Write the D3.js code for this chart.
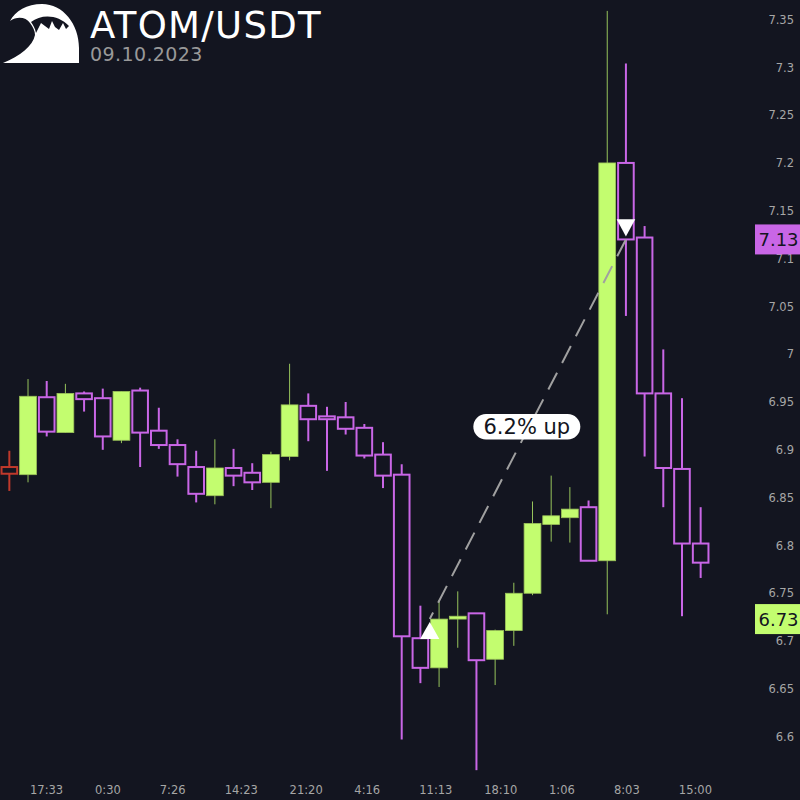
<!DOCTYPE html>
<html><head><meta charset="utf-8">
<script src="https://cdn.jsdelivr.net/npm/d3@7/dist/d3.min.js"></script>
<style>
html,body{margin:0;padding:0;background:#131520;}
svg{display:block;font-family:"DejaVu Sans",sans-serif;}
</style>
</head><body>
<svg id="chart" width="800" height="800"></svg>
<script>
// ---- data ----
const opens  = [6.882,6.874,6.955,6.918,6.959,6.954,6.910,6.962,6.920,6.905,6.882,6.852,6.881,6.876,6.866,6.893,6.946,6.935,6.934,6.923,6.895,6.874,6.703,6.672,6.723,6.729,6.681,6.711,6.750,6.822,6.829,6.840,6.784,7.200,7.122,6.959,6.880,6.802];
const highs  = [6.899,6.974,6.972,6.969,6.961,6.964,6.961,6.965,6.944,6.911,6.899,6.911,6.901,6.886,6.898,6.990,6.959,6.945,6.950,6.927,6.908,6.885,6.737,6.743,6.752,6.729,6.712,6.761,6.846,6.873,6.861,6.847,7.359,7.304,7.134,7.005,6.954,6.840];
const lows   = [6.857,6.866,6.914,6.918,6.940,6.900,6.907,6.882,6.901,6.872,6.845,6.843,6.862,6.858,6.839,6.889,6.909,6.878,6.916,6.891,6.860,6.597,6.656,6.652,6.693,6.565,6.654,6.695,6.748,6.804,6.803,6.784,6.728,7.040,6.893,6.840,6.726,6.766];
const closes = [6.875,6.956,6.919,6.959,6.953,6.914,6.961,6.918,6.905,6.885,6.854,6.881,6.873,6.866,6.895,6.947,6.932,6.932,6.922,6.894,6.873,6.705,6.672,6.723,6.726,6.680,6.711,6.750,6.823,6.831,6.838,6.784,7.200,7.120,6.959,6.881,6.802,6.782];
const firstCandleTime = "2023-10-06 14:00";
const candleHours = 2;
const xTickTimes = ["2023-10-06 17:33","2023-10-07 00:30","2023-10-07 07:26","2023-10-07 14:23","2023-10-07 21:20","2023-10-08 04:16","2023-10-08 11:13","2023-10-08 18:10","2023-10-09 01:06","2023-10-09 08:03","2023-10-09 15:00"];
const yTickValues = [6.6,6.65,6.7,6.75,6.8,6.85,6.9,6.95,7,7.05,7.1,7.15,7.2,7.25,7.3,7.35];
const entrySignal = {time:"2023-10-08 11:00", price:6.723, label:"6.73"};
const exitSignal  = {time:"2023-10-09 08:00", price:7.12,  label:"7.13"};
const changeLabel = "6.2% up";
const titleText = "ATOM/USDT";
const dateText = "09.10.2023";

// ---- styles ----
const BG = "#131520", GREEN = "#c3fd6f", PURPLE = "#c966e6", RED = "#c0392b", AXIS = "#a6a6a6";

const parse = d3.timeParse("%Y-%m-%d %H:%M");
const t0 = parse(firstCandleTime);
const n = opens.length;
const times = d3.range(n).map(i => d3.timeHour.offset(t0, i * candleHours));
const candles = times.map((t, i) => ({t, i, o: opens[i], h: highs[i], l: lows[i], c: closes[i]}));

const svg = d3.select("#chart");
svg.append("rect").attr("width", 800).attr("height", 800).attr("fill", BG);

const x = d3.scaleTime()
  .domain([d3.timeHour.offset(t0, -candleHours / 2), d3.timeHour.offset(times[n - 1], candleHours / 2)])
  .range([0, 710]);
const y = d3.scaleLinear().domain([6.6, 7.35]).range([736.7, 19.5]);
const step = x(times[1]) - x(times[0]);
const bw = step * 0.9;

// ---- axes ----
const yAxis = d3.axisRight(y).tickValues(yTickValues).tickSize(0).tickPadding(0)
  .tickFormat(d => String(+d.toFixed(2)));
const gy = svg.append("g").attr("transform", "translate(794,0)").call(yAxis);
gy.select(".domain").remove();
gy.selectAll("text").attr("text-anchor", "end").attr("fill", AXIS)
  .style("font-size", "11.5px").style("font-family", "DejaVu Sans");

const xAxis = d3.axisBottom(x).tickValues(xTickTimes.map(parse)).tickSize(0).tickPadding(3)
  .tickFormat(d3.timeFormat("%-H:%M"));
const gx = svg.append("g").attr("transform", "translate(0,783)").call(xAxis);
gx.select(".domain").remove();
gx.selectAll("text").attr("text-anchor", "start").attr("dx", -13).attr("fill", AXIS)
  .style("font-size", "11.5px").style("font-family", "DejaVu Sans");

// ---- candles ----
const g = svg.append("g");
candles.forEach(d => {
  const up = d.c >= d.o && d.i > 0;
  const col = d.i === 0 ? RED : (up ? GREEN : PURPLE);
  const cx = x(d.t);
  g.append("line").attr("x1", cx).attr("x2", cx).attr("y1", y(d.h)).attr("y2", y(d.l))
    .attr("stroke", col).attr("stroke-width", up ? 1 : 2).attr("stroke-opacity", up ? 0.75 : 1);
  const top = y(Math.max(d.o, d.c)), bot = y(Math.min(d.o, d.c));
  if (up) {
    g.append("rect").attr("x", cx - bw / 2).attr("y", top).attr("width", bw)
      .attr("height", Math.max(1.5, bot - top)).attr("fill", GREEN)
      .attr("stroke", "#9cc25a").attr("stroke-width", 0.8);
  } else {
    g.append("rect").attr("x", cx - (bw - 1.2) / 2).attr("y", top).attr("width", bw - 1.2)
      .attr("height", Math.max(1, bot - top)).attr("fill", BG)
      .attr("stroke", col).attr("stroke-width", 2);
  }
});

// ---- signal line & markers ----
const ex = x(parse(entrySignal.time)), eyy = y(entrySignal.price);
const xx = x(parse(exitSignal.time)), xyy = y(exitSignal.price);
svg.append("line").attr("x1", xx).attr("y1", xyy).attr("x2", ex).attr("y2", eyy)
  .attr("stroke", "#a0a0a0").attr("stroke-width", 2).attr("stroke-dasharray", "19,11");

svg.append("path")
  .attr("d", `M${ex},${eyy + 3} L${ex + 9.6},${eyy + 20} L${ex - 9.6},${eyy + 20} Z`)
  .attr("fill", "#ffffff");
svg.append("path")
  .attr("d", `M${xx},${xyy - 3} L${xx + 9.3},${xyy - 20.3} L${xx - 9.3},${xyy - 20.3} Z`)
  .attr("fill", "#ffffff");

// change label
const mx = (ex + xx) / 2 - 1, my = (eyy + xyy) / 2 - 2.5;
svg.append("rect").attr("x", mx - 53.5).attr("y", my - 12.7).attr("width", 107).attr("height", 25.4)
  .attr("rx", 12.7).attr("fill", "#ffffff");
svg.append("text").attr("x", mx).attr("y", my).attr("dy", "0.36em").attr("text-anchor", "middle")
  .attr("fill", "#131520").style("font-size", "21px").text(changeLabel);

// price boxes
[[exitSignal, PURPLE], [entrySignal, GREEN]].forEach(([s, col]) => {
  const py = y(s.price);
  svg.append("rect").attr("x", 755).attr("y", py - 15).attr("width", 50).attr("height", 30).attr("fill", col);
  svg.append("text").attr("x", 778.5).attr("y", py).attr("dy", "0.36em").attr("text-anchor", "middle")
    .attr("fill", "#131520").style("font-size", "18px").text(s.label);
});

// ---- header ----
const logo = svg.append("g");
logo.append("path")
  .attr("d", "M3,63 L79,63 L79,48 C79,24 63,4 42,4 C27,4 15,11 10,21 C17,16 26,17 30,23 C33,27 35,31 35,35 C33,46 20,56 3,63 Z")
  .attr("fill", "#ffffff");
logo.append("path")
  .attr("d", "M31,22 C41,14 58,14 69,26 L66,29 L63,23 L59,30 L55,27 L52,21 L49,29 L45,26 L41,23 L38,29 L36,33 C35,28 33,25 31,22 Z")
  .attr("fill", BG);
svg.append("text").attr("x", 90).attr("y", 38).attr("fill", "#ffffff")
  .style("font-size", "37px").style("letter-spacing", "1.3px").text(titleText);
svg.append("text").attr("x", 90).attr("y", 61).attr("fill", "#999999")
  .style("font-size", "19px").style("letter-spacing", "0.4px").text(dateText);
</script>
</body></html>
